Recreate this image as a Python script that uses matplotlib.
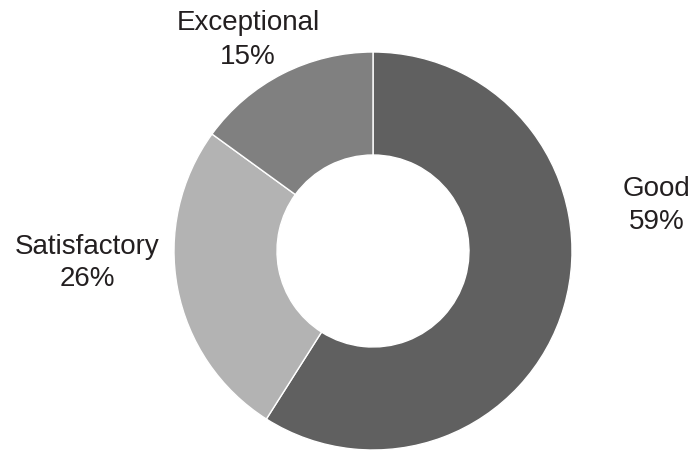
import matplotlib.pyplot as plt

# rating breakdown
labels = ["Good", "Satisfactory", "Exceptional"]
shares = [59, 26, 15]
colors = ["#606060", "#b3b3b3", "#808080"]

# label anchors in pixel space (x, y from top)
label_pos = [(657, 206), (87, 263), (248, 40)]

W, H = 690, 452
fig = plt.figure(figsize=(W / 100, H / 100), dpi=100)
ax = fig.add_axes([0, 0, 1, 1])

cx, cy, r = 373, H - 252, 199
ax.pie(shares, colors=colors, startangle=90, counterclock=False,
       center=(cx, cy), radius=r, frame=True,
       wedgeprops=dict(width=103, edgecolor="white", linewidth=1))
ax.set_xlim(0, W)
ax.set_ylim(0, H)
ax.set_aspect("equal")
ax.axis("off")

for lab, val, (x, y) in zip(labels, shares, label_pos):
    ax.text(x, H - y, f"{lab}\n{val}%", ha="center", va="center",
            fontsize=20, family="Liberation Sans", color="#231f20",
            linespacing=1.35)

fig.savefig("out.png", dpi=100)
